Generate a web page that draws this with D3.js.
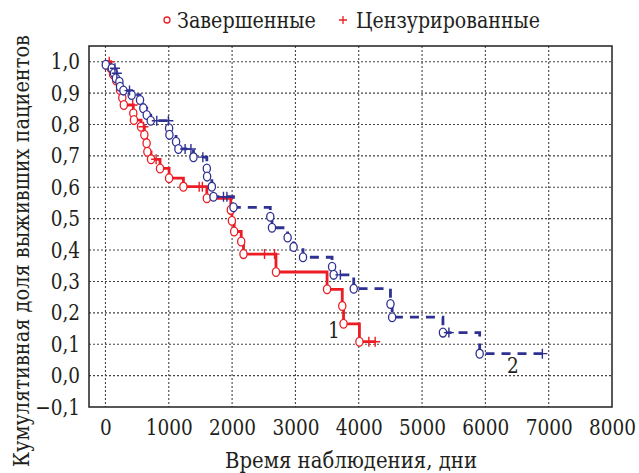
<!DOCTYPE html>
<html><head><meta charset="utf-8">
<script src="https://cdn.jsdelivr.net/npm/d3@7/dist/d3.min.js"></script>
<style>
html,body{margin:0;padding:0;background:#fff;}
</style></head>
<body><svg id="c" width="639" height="473"></svg>
<script>
// ---- data ----
const xTicks = [0,1000,2000,3000,4000,5000,6000,7000,8000];
const yTicks = [-0.1,0,0.1,0.2,0.3,0.4,0.5,0.6,0.7,0.8,0.9,1.0];
const legendLabels = ["Завершенные","Цензурированные"];
const xTitle = "Время наблюдения, дни";
const yTitle = "Кумулятивная доля выживших пациентов";
// group 1 (red): completed events [day, survival after event]
const redEvents = [[80,0.98],[120,0.96],[170,0.94],[230,0.91],[266,0.885],[290,0.862],[440,0.836],[450,0.814],[562,0.793],[614,0.767],[650,0.74],[662,0.713],[720,0.689],[862,0.66],[1005,0.629],[1231,0.602],[1601,0.565],[1980,0.528],[1997,0.493],[2033,0.459],[2144,0.427],[2180,0.387],[2693,0.33],[3500,0.275],[3740,0.222],[3760,0.165],[4011,0.108]];
const redCensored = [[60,1.0],[430,0.862],[600,0.793],[800,0.689],[1480,0.602],[1530,0.602],[2512,0.387],[2670,0.387],[4160,0.108],[4260,0.108]];
// group 2 (blue)
const blueEvents = [[5,0.99],[100,0.979],[135,0.963],[165,0.947],[220,0.936],[230,0.92],[283,0.908],[414,0.894],[546,0.878],[598,0.852],[652,0.83],[715,0.812],[1005,0.788],[1010,0.767],[1115,0.745],[1152,0.722],[1390,0.696],[1601,0.66],[1605,0.634],[1680,0.602],[1706,0.570],[2022,0.536],[2603,0.506],[2630,0.471],[2877,0.44],[2971,0.41],[3120,0.377],[3579,0.347],[3604,0.321],[3921,0.277],[4501,0.228],[4528,0.186],[5330,0.137],[5910,0.070]];
const blueCensored = [[150,0.979],[180,0.963],[380,0.908],[810,0.812],[994,0.812],[1258,0.722],[1350,0.722],[1538,0.696],[1864,0.570],[1918,0.570],[3710,0.321],[5424,0.137],[6900,0.070]];
const curveLabels = [["1",3609,0.12],["2",6436,0.009]];

// ---- chart ----
const RED = "#ed1c24", BLUE = "#2e3192", INK = "#231f20";
const FONT = "'DejaVu Serif', 'Liberation Serif', 'Noto Serif', 'Times New Roman', serif";
const svg = d3.select("#c");
const x = d3.scaleLinear().domain([-260,8000]).range([89,612]);
const y = d3.scaleLinear().domain([-0.1,1.05]).range([407,46]);
const fmt = v => (v<0?"\u2212":"") + Math.abs(v).toFixed(1).replace(".",",");

// place a text at (ax,ay) [optionally rotated] and squeeze it horizontally to a target width
function placeText(parent, str, ax, ay, size, anchor, target, rot){
  const t = parent.append("text").attr("x",0).attr("y",0).attr("text-anchor",anchor)
    .style("font-family",FONT).style("font-size",size+"px").style("fill",INK).text(str);
  const L = t.node().getComputedTextLength();
  const k = target ? target/L : 0.84;
  t.attr("transform",`translate(${ax},${ay})${rot?` rotate(${rot})`:""} scale(${k.toFixed(4)},1)`);
  return t;
}

// grid
const grid = svg.append("g").attr("stroke","#444").attr("stroke-width",1.1).attr("stroke-dasharray","2,2");
grid.selectAll(".gx").data(xTicks.filter(t=>t<8000)).enter().append("line")
  .attr("x1",d=>x(d)).attr("x2",d=>x(d)).attr("y1",y(1.05)).attr("y2",y(-0.1));
grid.selectAll(".gy").data(yTicks.filter(t=>t>-0.1)).enter().append("line")
  .attr("y1",d=>y(d)).attr("y2",d=>y(d)).attr("x1",x(-260)).attr("x2",x(8000));

// frame
svg.append("rect").attr("x",x(-260)).attr("y",y(1.05)).attr("width",x(8000)-x(-260)).attr("height",y(-0.1)-y(1.05))
  .attr("fill","none").attr("stroke",INK).attr("stroke-width",1.5);

// axes labels (d3 axes, text squeezed to Times-like width)
const K = 0.84;
const xAxis = svg.append("g").attr("transform",`translate(0,${y(-0.1)})`)
  .call(d3.axisBottom(x).tickValues(xTicks).tickSize(0).tickPadding(12).tickFormat(d3.format("d")));
xAxis.select(".domain").remove();
const yAxis = svg.append("g").attr("transform",`translate(${x(-260)},0)`)
  .call(d3.axisLeft(y).tickValues(yTicks).tickSize(0).tickPadding(9).tickFormat(fmt));
yAxis.select(".domain").remove();
svg.selectAll(".tick text").style("font-family",FONT).style("font-size","22px").style("fill",INK)
  .attr("transform",`scale(${K},1)`);
yAxis.selectAll(".tick text").attr("x",(-9/K).toFixed(2));

// titles
placeText(svg, xTitle, 351, 468, 22, "middle", 252, 0);
placeText(svg, yTitle, 29, 251, 23, "middle", 432, -90);

// curves
const line = d3.line().x(d=>x(d[0])).y(d=>y(d[1])).curve(d3.curveStepAfter);
function drawGroup(events, censored, color, dash){
  const lastT = d3.max(censored.concat(events), d=>d[0]);
  const pts = [[0,1.0]].concat(events).concat([[lastT, events[events.length-1][1]]]);
  svg.append("path").attr("d",line(pts)).attr("fill","none").attr("stroke",color)
    .attr("stroke-width",2.8).attr("stroke-dasharray",dash);
  const g = svg.append("g");
  g.selectAll("ellipse").data(events).enter().append("ellipse")
    .attr("cx",d=>x(d[0])).attr("cy",d=>y(d[1])).attr("rx",3.6).attr("ry",4.4)
    .attr("fill","#fff").attr("stroke",color).attr("stroke-width",1.3);
  g.selectAll(".p").data(censored).enter().append("path")
    .attr("d",d=>{const cx=x(d[0]),cy=y(d[1]);return `M${cx-5},${cy}H${cx+5}M${cx},${cy-5}V${cy+5}`;})
    .attr("stroke",color).attr("stroke-width",1.4).attr("fill","none");
}
drawGroup(redEvents, redCensored, RED, null);
drawGroup(blueEvents, blueCensored, BLUE, "9,7");

curveLabels.forEach(d => placeText(svg, d[0], x(d[1]), y(d[2]), 22, "middle", null, 0));

// legend
const lg = svg.append("g");
lg.append("circle").attr("cx",167).attr("cy",20).attr("r",3).attr("fill","#fff").attr("stroke",RED).attr("stroke-width",1.3);
placeText(lg, legendLabels[0], 177, 28, 23, "start", 139, 0);
lg.append("path").attr("d","M339,20H347M343,16V24").attr("stroke",RED).attr("stroke-width",1.3);
placeText(lg, legendLabels[1], 356, 28, 23, "start", 184, 0);
</script></body></html>
